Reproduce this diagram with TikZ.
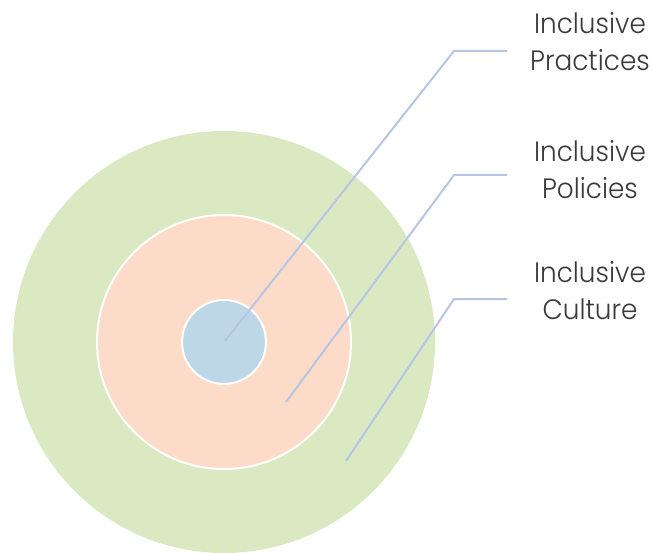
\documentclass[tikz,border=0pt]{standalone}
\usepackage{fontspec}
\setmainfont{Poppins}[UprightFont=* Light]
\definecolor{cgreen}{HTML}{DBE9C3}
\definecolor{corange}{HTML}{FCDCC8}
\definecolor{cblue}{HTML}{BDD7E7}
\definecolor{cline}{HTML}{B7C5E4}
\definecolor{ctext}{HTML}{3A3A3A}
\newcommand{\lbltext}[2]{\scalebox{0.94}[1]{\begin{tabular}{@{}c@{}}#1\\#2\end{tabular}}}
\begin{document}
\begin{tikzpicture}[x=1pt,y=-1pt,
  ring/.style={circle,draw=white,line width=2pt,inner sep=0pt},
  leader/.style={draw=cline,line width=2pt},
  lbl/.style={align=center,text=ctext,font=\fontsize{28}{37}\selectfont,inner sep=0pt}]
\useasboundingbox (0,0) rectangle (652,553);
\begin{scope}
\clip (0,0) rectangle (652,553);
\node[ring,fill=cgreen,draw=none,minimum size=422pt] (outer) at (224,342) {};
\node[ring,fill=corange,minimum size=254pt] (middle) at (224,342) {};
\node[ring,fill=cblue,minimum size=84pt] (inner) at (224,342) {};
\end{scope}
\coordinate (p1) at (225,341);
\coordinate (p2) at (286,402);
\coordinate (p3) at (346,461);
\coordinate (k1) at (454,51);
\coordinate (k2) at (454,175);
\coordinate (k3) at (454,299);
\coordinate (e1) at (507,51);
\coordinate (e2) at (507,175);
\coordinate (e3) at (507,299);
\draw[leader] (p1) -- (k1) -- (e1);
\draw[leader] (p2) -- (k2) -- (e2);
\draw[leader] (p3) -- (k3) -- (e3);
\node[lbl] (t1) at (590,45) {\lbltext{Inclusive}{Practices}};
\node[lbl] (t2) at (590,173) {\lbltext{Inclusive}{Policies}};
\node[lbl] (t3) at (590,294) {\lbltext{Inclusive}{Culture}};
\end{tikzpicture}
\end{document}
